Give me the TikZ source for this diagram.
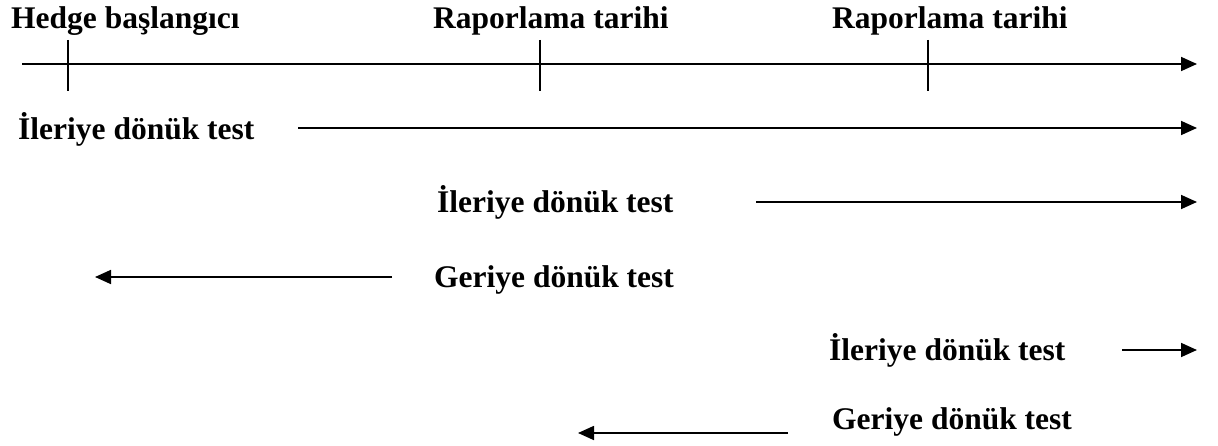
\documentclass[tikz,border=0pt]{standalone}
\usepackage{fontspec}
\setmainfont{Liberation Serif}
\usetikzlibrary{arrows.meta}
\tikzset{
  lbl/.style={anchor=base west, inner sep=0pt, font=\fontsize{31.5}{36}\selectfont\bfseries},
  axis/.style={line width=1.7pt},
  tick/.style={line width=1.5pt},
  arr/.style={line width=1.7pt, -{Triangle[length=16pt,width=14pt]}},
}
\begin{document}
\begin{tikzpicture}[x=1pt,y=-1pt]
\useasboundingbox (0,0) rectangle (1218,446);
% top labels
\node[lbl] (hedge) at (11,29) {Hedge başlangıcı};
\node[lbl] (rap1) at (433,29) {Raporlama tarihi};
\node[lbl] (rap2) at (832,29) {Raporlama tarihi};
% axis
\coordinate (ax0) at (22,64);
\coordinate (ax1) at (1197,64);
\draw[arr] (ax0) -- (ax1);
\coordinate (t1a) at (68,40);  \coordinate (t1b) at (68,91);
\coordinate (t2a) at (540,40); \coordinate (t2b) at (540,91);
\coordinate (t3a) at (928,40); \coordinate (t3b) at (928,91);
\draw[tick] (t1a) -- (t1b);
\draw[tick] (t2a) -- (t2b);
\draw[tick] (t3a) -- (t3b);
% row 1
\node[lbl] (r1) at (18,140) {İleriye dönük test};
\coordinate (r1a) at (298,128); \coordinate (r1b) at (1197,128);
\draw[arr] (r1a) -- (r1b);
% row 2
\node[lbl] (r2) at (437,213) {İleriye dönük test};
\coordinate (r2a) at (756,202); \coordinate (r2b) at (1197,202);
\draw[arr] (r2a) -- (r2b);
% row 3
\node[lbl] (r3) at (434,288) {Geriye dönük test};
\coordinate (r3a) at (392,277); \coordinate (r3b) at (95,277);
\draw[arr] (r3a) -- (r3b);
% row 4
\node[lbl] (r4) at (829,360) {İleriye dönük test};
\coordinate (r4a) at (1122,350); \coordinate (r4b) at (1197,350);
\draw[arr] (r4a) -- (r4b);
% row 5
\node[lbl] (r5) at (832,429) {Geriye dönük test};
\coordinate (r5a) at (788,433); \coordinate (r5b) at (578,433);
\draw[arr] (r5a) -- (r5b);
\end{tikzpicture}
\end{document}
